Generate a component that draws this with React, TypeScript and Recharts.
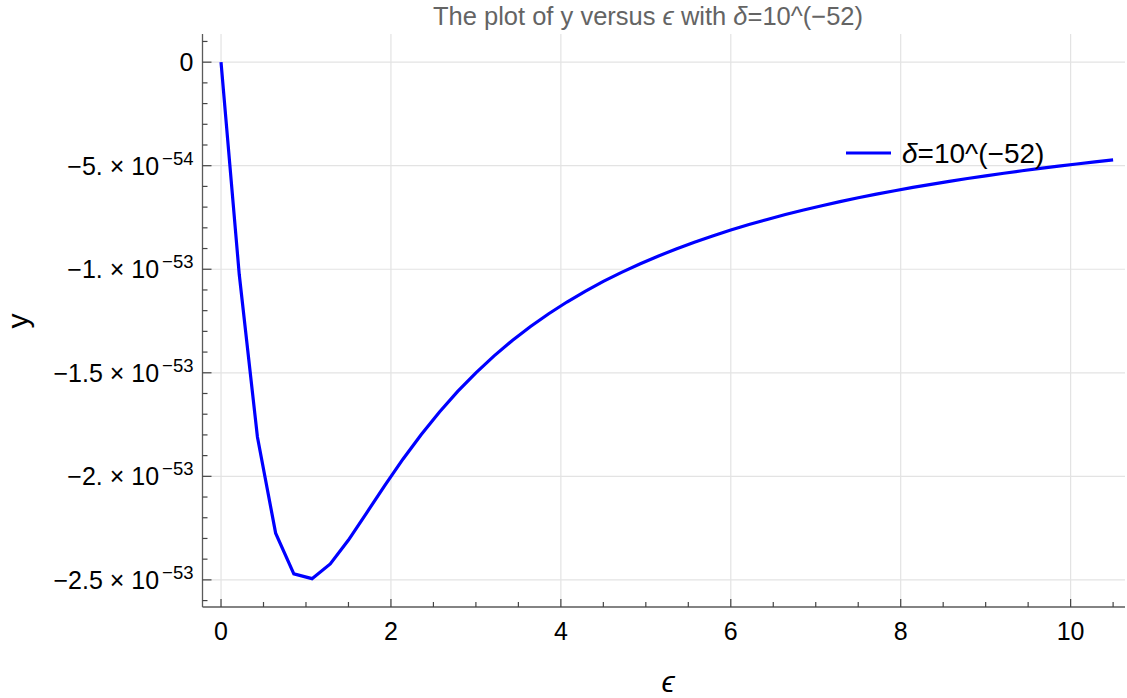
import React from 'react';
import { LineChart, Line, XAxis, YAxis, ReferenceLine } from 'recharts';

// epsilon samples and y values (y in units of 1e-54)
const epsValues = [
  0, 0.2143, 0.4286, 0.6429, 0.8571, 1.0714, 1.2857, 1.5, 1.7143, 1.9286,
  2.1429, 2.3571, 2.5714, 2.7857, 3.0, 3.2143, 3.4286, 3.6429, 3.8571, 4.0714,
  4.2857, 4.5, 4.7143, 4.9286, 5.1429, 5.3571, 5.5714, 5.7857, 6.0, 6.2143,
  6.4286, 6.6429, 6.8571, 7.0714, 7.2857, 7.5, 7.7143, 7.9286, 8.1429, 8.3571,
  8.5714, 8.7857, 9.0, 9.2143, 9.4286, 9.6429, 9.8571, 10.0714, 10.2857, 10.5,
];
const yValues = [
  0, -10.244, -18.103, -22.744, -24.706, -24.941, -24.231, -23.077, -21.762, -20.432,
  -19.161, -17.977, -16.89, -15.9, -15.0, -14.183, -13.44, -12.764, -12.147, -11.582,
  -11.064, -10.588, -10.149, -9.744, -9.368, -9.019, -8.694, -8.391, -8.108, -7.843,
  -7.594, -7.36, -7.14, -6.932, -6.736, -6.55, -6.374, -6.208, -6.049, -5.899,
  -5.755, -5.618, -5.488, -5.363, -5.244, -5.13, -5.021, -4.916, -4.816, -4.719,
];

const xMajorTicks = [0, 2, 4, 6, 8, 10];
const xAllTicks = [
  0, 0.5, 1, 1.5, 2, 2.5, 3, 3.5, 4, 4.5, 5, 5.5, 6, 6.5, 7, 7.5, 8, 8.5, 9, 9.5, 10, 10.5,
];
const yMajorTicks = [0, -5, -10, -15, -20, -25];
const yMantissa = ['0', '\u22125.', '\u22121.', '\u22121.5', '\u22122.', '\u22122.5'];
const yExponent = ['', '\u221254', '\u221253', '\u221253', '\u221253', '\u221253'];
const yAllTicks = [
  1, 0, -1, -2, -3, -4, -5, -6, -7, -8, -9, -10, -11, -12, -13, -14,
  -15, -16, -17, -18, -19, -20, -21, -22, -23, -24, -25, -26,
];

const data = epsValues.map((eps, i) => ({ eps, y: yValues[i] }));

const FONT = '"Liberation Sans", Arial, sans-serif';
const TICK = '#444';
const FRAME = '#5a5a5a';
const GRID = '#e3e3e3';

const BottomTick = (props: any) => {
  const { x, y, payload } = props;
  const major = xMajorTicks.includes(payload.value);
  return (
    <g>
      <line x1={x} y1={y} x2={x} y2={y - (major ? 8 : 5)} stroke={TICK} strokeWidth={1.2} />
      {major && (
        <text x={x} y={y + 33} textAnchor="middle" fontSize={25} fontFamily={FONT} fill="#000">
          {payload.value}
        </text>
      )}
    </g>
  );
};

const TopTick = (props: any) => {
  const { x, y, payload } = props;
  const major = xMajorTicks.includes(payload.value);
  return <line x1={x} y1={y} x2={x} y2={y + (major ? 8 : 5)} stroke={TICK} strokeWidth={1.2} />;
};

const LeftTick = (props: any) => {
  const { x, y, payload } = props;
  const idx = yMajorTicks.indexOf(payload.value);
  const major = idx >= 0;
  return (
    <g>
      <line x1={x} y1={y} x2={x + (major ? 9 : 5)} y2={y} stroke={TICK} strokeWidth={1.2} />
      {major && (
        <text x={x - 9} y={y + 9} textAnchor="end" fontSize={25} fontFamily={FONT} fill="#000">
          {yExponent[idx] ? `${yMantissa[idx]} \u00d7 10` : yMantissa[idx]}
          {yExponent[idx] && (
            <tspan dx={3} dy={-10} fontSize={18.5}>
              {yExponent[idx]}
            </tspan>
          )}
        </text>
      )}
    </g>
  );
};

const RightTick = (props: any) => {
  const { x, y, payload } = props;
  const major = yMajorTicks.includes(payload.value);
  return <line x1={x} y1={y} x2={x - (major ? 9 : 5)} y2={y} stroke={TICK} strokeWidth={1.2} />;
};

const App = () => {
  return (
    <div style={{ position: 'absolute', left: 0, top: 0, width: 1127, height: 698, background: '#fff' }}>
      <LineChart width={1127} height={698} data={data} margin={{ top: 34, right: 2, bottom: 0, left: 0 }}>
        <XAxis
          dataKey="eps"
          type="number"
          domain={[-0.218, 10.64]}
          allowDataOverflow
          ticks={xAllTicks}
          interval={0}
          tick={<BottomTick />}
          tickLine={false}
          tickSize={0}
          tickMargin={0}
          height={91}
          axisLine={{ stroke: FRAME, strokeWidth: 1.3 }}
        />
        <XAxis
          xAxisId="top"
          orientation="top"
          dataKey="eps"
          type="number"
          domain={[-0.218, 10.64]}
          allowDataOverflow
          ticks={xAllTicks}
          interval={0}
          tick={<TopTick />}
          tickLine={false}
          tickSize={0}
          tickMargin={0}
          height={0}
          axisLine={{ stroke: FRAME, strokeWidth: 1.3 }}
        />
        <YAxis
          type="number"
          domain={[-26.31, 1.36]}
          allowDataOverflow
          ticks={yAllTicks}
          interval={0}
          tick={<LeftTick />}
          tickLine={false}
          tickSize={0}
          tickMargin={0}
          width={202.5}
          axisLine={{ stroke: FRAME, strokeWidth: 1.3 }}
        />
        <YAxis
          yAxisId="right"
          orientation="right"
          type="number"
          domain={[-26.31, 1.36]}
          allowDataOverflow
          ticks={yAllTicks}
          interval={0}
          tick={<RightTick />}
          tickLine={false}
          tickSize={0}
          tickMargin={0}
          width={0}
          axisLine={{ stroke: FRAME, strokeWidth: 1.3 }}
        />
        {xMajorTicks.map((v) => (
          <ReferenceLine key={`gx${v}`} x={v} stroke={GRID} strokeWidth={1.2} />
        ))}
        {yMajorTicks.map((v) => (
          <ReferenceLine key={`gy${v}`} y={v} stroke={GRID} strokeWidth={1.2} />
        ))}
        <Line
          type="linear"
          dataKey="y"
          stroke="#0000ff"
          strokeWidth={3.2}
          dot={false}
          isAnimationActive={false}
        />
      </LineChart>
      <svg
        width={1127}
        height={698}
        style={{ position: 'absolute', left: 0, top: 0, pointerEvents: 'none' }}
        fontFamily={FONT}
      >
        <text x={648} y={25} textAnchor="middle" fontSize={25.5} fill="#646464">
          The plot of y versus <tspan fontStyle="italic">{'\u03f5'}</tspan> with{' '}
          <tspan fontStyle="italic">{'\u03b4'}</tspan>=10^({'\u2212'}52)
        </text>
        <text x={668} y={692} textAnchor="middle" fontSize={30} fontStyle="italic" fill="#000">
          {'\u03f5'}
        </text>
        <text transform="translate(28,321) rotate(-90)" textAnchor="middle" fontSize={30} fill="#000">
          y
        </text>
        <line x1={846} y1={153} x2={891} y2={153} stroke="#0000ff" strokeWidth={3.2} />
        <text x={902} y={163} fontSize={28} fill="#000">
          <tspan fontStyle="italic">{'\u03b4'}</tspan>=10^({'\u2212'}52)
        </text>
      </svg>
    </div>
  );
};

export default App;
